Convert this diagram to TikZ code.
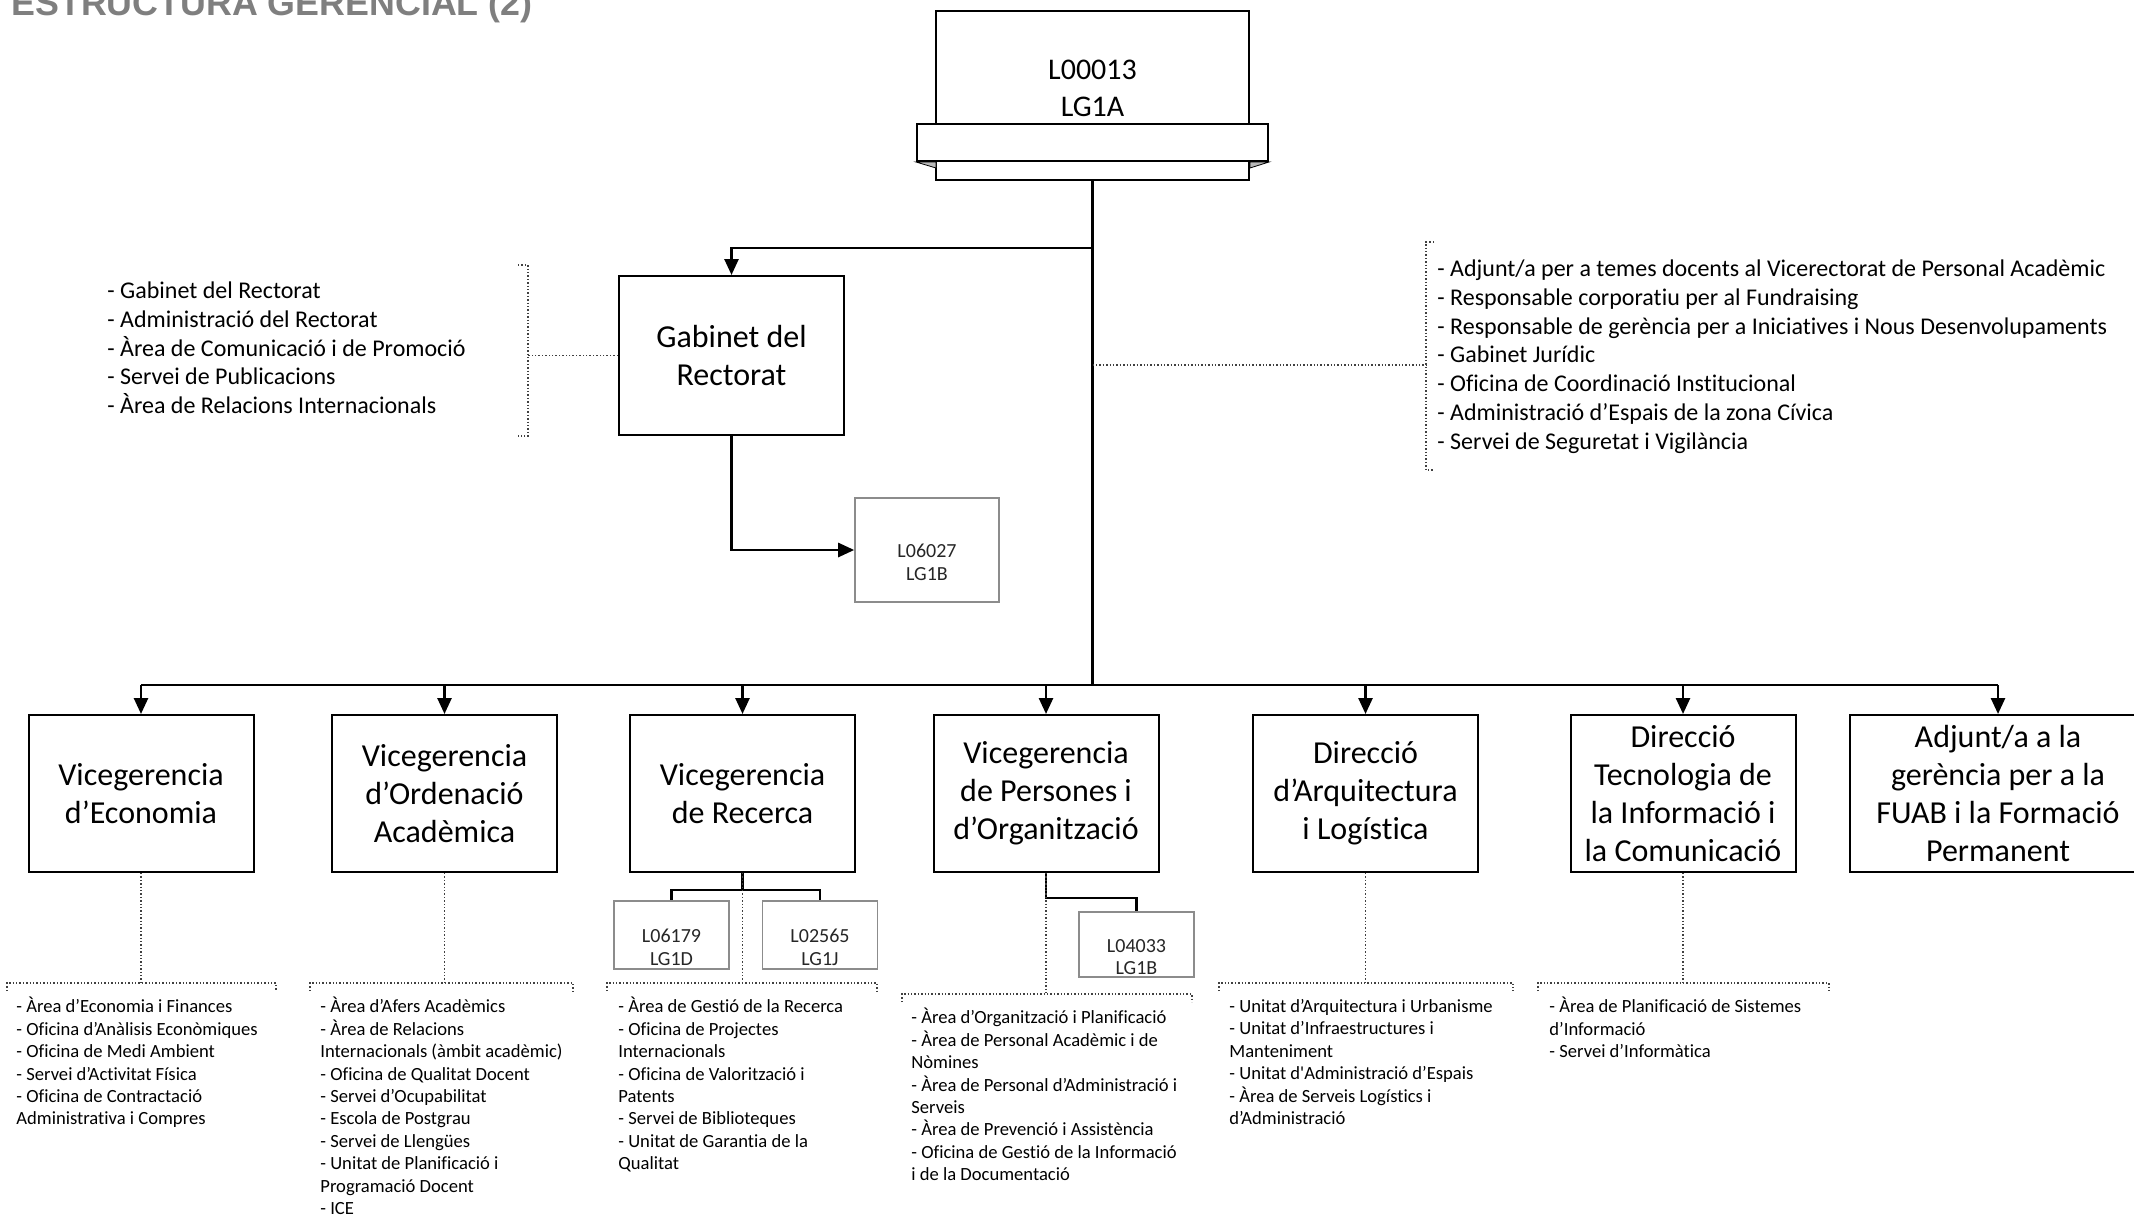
\documentclass[tikz,border=0pt]{standalone}
\usepackage{fontspec}
\setmainfont{Carlito}[Ligatures={TeX,NoCommon}]
\newfontfamily\titlefont{Liberation Sans}
\usetikzlibrary{arrows.meta}
\definecolor{titlegray}{HTML}{7F7F7F}
\definecolor{codegray}{HTML}{8C8C8C}
\definecolor{dotgray}{HTML}{404040}
\tikzset{
  unit/.style={draw, line width=1pt, minimum width=112.5pt, minimum height=78.5pt,
    align=center, inner sep=0pt, font=\fontsize{16}{19}\selectfont},
  code/.style={draw=codegray, line width=0.8pt, minimum width=57.5pt, minimum height=34pt,
    align=center, inner sep=0pt, text=black!85, font=\fontsize{10}{11.2}\selectfont},
  list/.style={anchor=north west, align=left, inner sep=0pt,
    font=\fontsize{12}{14.4}\selectfont, execute at begin node={\rule{0pt}{1em}}},
  sublist/.style={list, font=\fontsize{9.3}{11.2}\selectfont},
  link/.style={line width=1.3pt},
  arr/.style={link, -{Triangle[length=8pt,width=7pt]}},
  dots/.style={dotgray, line width=0.7pt, densely dotted},
}
\begin{document}
\begin{tikzpicture}[x=0.5pt,y=-0.5pt]
  \useasboundingbox (0,0) rectangle (2134,1216);
  \node[anchor=base west, inner sep=0pt, text=titlegray,
    font=\titlefont\bfseries\fontsize{17.9}{21}\selectfont] (titol) at (11,15) {ESTRUCTURA GERENCIAL (2)};

  \node[draw, line width=1pt, minimum width=156.5pt, minimum height=84.5pt, inner sep=0pt] (gerent) at (1092.5,95.5) {};
  \node[draw, fill=white, line width=1pt, minimum width=175.5pt, minimum height=18.5pt, inner sep=0pt] (banda) at (1092.5,142.5) {};
  \filldraw[fill=gray!55, line width=0.4pt] (banda.south west) -- ++(20,0) -- ++(0,6) -- cycle;
  \filldraw[fill=gray!55, line width=0.4pt] (banda.south east) -- ++(-19,0) -- ++(0,6) -- cycle;
  \node[align=center, font=\fontsize{15}{18.5}\selectfont] (codiGerent) at (1092.5,88.5) {L00013\\LG1A};

  \coordinate (bus) at (1092.5,685);
  \coordinate (rama) at (1092.5,248);
  \coordinate (suport) at (1092.5,365);
  \draw[link] (gerent.south) -- (bus);

  \node[unit, minimum height=79.5pt] (gabinet) at (731.5,355.5) {Gabinet del\\Rectorat};
  \node[code, minimum width=72pt, minimum height=52pt] (l06027) at (927,550) {\strut\\L06027\\LG1B};
  \draw[arr] (rama) -| (gabinet.north);
  \draw[arr] (gabinet.south) |- (l06027.west);

  \draw[dots] (518,265) -- (528,265) -- (528,436) -- (518,436);
  \draw[dots] (gabinet.west) -- ++(-91,0);
  \node[list] (llistaGabinet) at (107,281.5) {- Gabinet del Rectorat\\- Administració del Rectorat\\- Àrea de Comunicació i de Promoció\\- Servei de Publicacions\\- Àrea de Relacions Internacionals};

  \draw[dots] (1434,242) -- (1426,242) -- (1426,470) -- (1434,470);
  \draw[dots] (suport) -- (1426,365);
  \node[list] (llistaSuport) at (1437,259.5) {- Adjunt/a per a temes docents al Vicerectorat de Personal Acadèmic\\- Responsable corporatiu per al Fundraising\\- Responsable de gerència per a Iniciatives i Nous Desenvolupaments\\- Gabinet Jurídic\\- Oficina de Coordinació Institucional\\- Administració d’Espais de la zona Cívica\\- Servei de Seguretat i Vigilància};

  \node[unit] (eco) at (141,793.5) {Vicegerencia\\d’Economia};
  \node[unit] (orden) at (444.5,793.5) {Vicegerencia\\d’Ordenació\\Acadèmica};
  \node[unit] (recerca) at (742.5,793.5) {Vicegerencia\\de Recerca};
  \node[unit] (persones) at (1046,793.5) {Vicegerencia\\de Persones i\\d’Organització};
  \node[unit] (arq) at (1365.5,793.5) {Direcció\\d’Arquitectura\\i Logística};
  \node[unit] (tic) at (1683,793.5) {Direcció\\Tecnologia de\\la Informació i\\la Comunicació};
  \node[unit, minimum width=148pt] (fuab) at (1998,793.5) {Adjunt/a a la\\gerència per a la\\FUAB i la Formació\\Permanent};

  \draw[link] (eco.north |- bus) -- (fuab.north |- bus);
  \foreach \u in {eco,orden,recerca,persones,arq,tic,fuab}
    \draw[arr] (\u.north |- bus) -- (\u.north);

  \node[code] (l06179) at (671.5,935) {\strut\\L06179\\LG1D};
  \node[code] (l02565) at (820,935) {\strut\\L02565\\LG1J};
  \draw[link] (recerca.south) -- ++(0,17) -| (l06179.north);
  \draw[link] (recerca.south) -- ++(0,17) -| (l02565.north);

  \node[code, minimum height=32.5pt] (l04033) at (1136.5,944.5) {\strut\\L04033\\LG1B};
  \draw[link] (persones.south) -- ++(0,25) -| (l04033.north);

  \coordinate (cEco) at (141,983);
  \coordinate (cOrden) at (444.5,983);
  \coordinate (cRecerca) at (742.5,983);
  \coordinate (cPersones) at (1046,994);
  \coordinate (cArq) at (1365.5,983);
  \coordinate (cTic) at (1683,983);
  \foreach \u/\c in {eco/cEco,orden/cOrden,recerca/cRecerca,persones/cPersones,arq/cArq,tic/cTic}
    \draw[dots] (\u.south) -- (\c);

  \draw[dots] (7,991) |- (276,983) -- (276,991);
  \draw[dots] (310,991) |- (573,983) -- (573,991);
  \draw[dots] (607,991) |- (877,983) -- (877,991);
  \draw[dots] (902,1002) |- (1192,994) -- (1192,1002);
  \draw[dots] (1219,991) |- (1513,983) -- (1513,991);
  \draw[dots] (1538,991) |- (1829,983) -- (1829,991);

  \node[sublist] (llistaEco) at (16,997) {- Àrea d’Economia i Finances\\- Oficina d’Anàlisis Econòmiques\\- Oficina de Medi Ambient\\- Servei d’Activitat Física\\- Oficina de Contractació\\Administrativa i Compres};
  \node[sublist] (llistaOrden) at (320,997) {- Àrea d’Afers Acadèmics\\- Àrea de Relacions\\Internacionals (àmbit acadèmic)\\- Oficina de Qualitat Docent\\- Servei d’Ocupabilitat\\- Escola de Postgrau\\- Servei de Llengües\\- Unitat de Planificació i\\Programació Docent\\- ICE};
  \node[sublist] (llistaRecerca) at (618,997) {- Àrea de Gestió de la Recerca\\- Oficina de Projectes\\Internacionals\\- Oficina de Valorització i\\Patents\\- Servei de Biblioteques\\- Unitat de Garantia de la\\Qualitat};
  \node[sublist] (llistaPersones) at (911,1008) {- Àrea d’Organització i Planificació\\- Àrea de Personal Acadèmic i de\\Nòmines\\- Àrea de Personal d’Administració i\\Serveis\\- Àrea de Prevenció i Assistència\\- Oficina de Gestió de la Informació\\i de la Documentació};
  \node[sublist] (llistaArq) at (1229,999) {- Unitat d’Arquitectura i Urbanisme\\- Unitat d’Infraestructures i\\Manteniment\\- Unitat d\textquotesingle Administració d’Espais\\- Àrea de Serveis Logístics i\\d’Administració};
  \node[sublist] (llistaTic) at (1549,997) {- Àrea de Planificació de Sistemes\\d’Informació\\- Servei d’Informàtica};
\end{tikzpicture}
\end{document}
